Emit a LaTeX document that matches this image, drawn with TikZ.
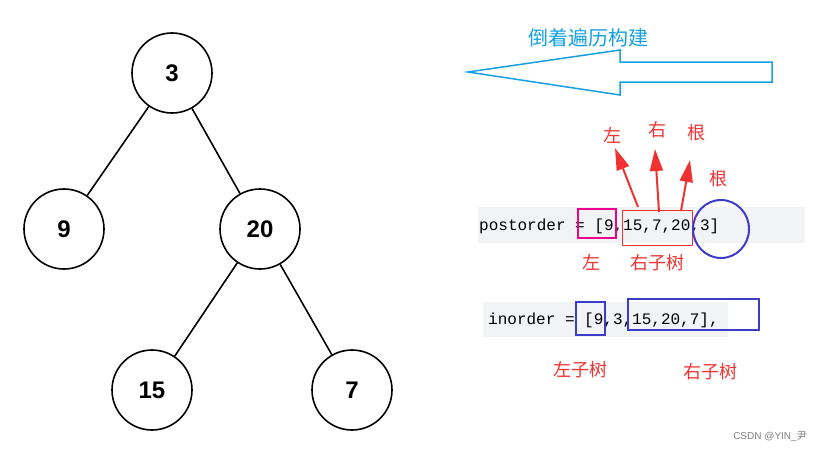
\documentclass[tikz,border=0pt]{standalone}
\usepackage{fontspec}
\setmainfont{Liberation Sans}
\newfontfamily\cjk{Noto Sans CJK SC}
\newfontfamily\mono{Liberation Mono}
\usetikzlibrary{arrows.meta}
\definecolor{cred}{RGB}{240,50,50}
\definecolor{cblue}{RGB}{60,60,200}
\definecolor{sky}{RGB}{20,160,225}
\definecolor{band}{RGB}{242,243,245}
\tikzset{
 tnode/.style={circle,draw,line width=1.6pt,minimum size=80pt,inner sep=0pt,font=\fontsize{24}{24}\selectfont\bfseries},
 edge/.style={line width=1.6pt},
 rlab/.style={text=cred,font=\cjk\fontsize{18}{18}\selectfont,inner sep=0pt},
 code/.style={font=\mono\fontsize{16}{16}\selectfont,anchor=west,inner sep=0pt},
 redarrow/.style={cred,line width=2pt,-{Triangle[length=22pt,width=13pt]}},
}
\begin{document}
\begin{tikzpicture}[x=1pt,y=-1pt]
\useasboundingbox (0,0) rectangle (829,452);
\node[tnode] (n3) at (172,73) {3};
\node[tnode] (n9) at (64,229) {9};
\node[tnode] (n20) at (260,229) {20};
\node[tnode] (n15) at (152,390) {15};
\node[tnode] (n7) at (352,390) {7};
\draw[edge] (n3) -- (n9);
\draw[edge] (n3) -- (n20);
\draw[edge] (n20) -- (n15);
\draw[edge] (n20) -- (n7);
% big arrow
\draw[sky,line width=1.5pt] (468,72) -- (620,50) -- (620,62) -- (772,62) -- (772,82) -- (620,82) -- (620,95) -- cycle;
\node[text=sky,font=\cjk\fontsize{20}{20}\selectfont] (title) at (588,38) {倒着遍历构建};
% postorder
\fill[band] (478,207) rectangle (805,243);
\node[code] (post) at (479,226) {postorder = [9,15,7,20,3]};
\draw[magenta,line width=2pt] (578,209) rectangle (616,238);
\draw[cred,line width=0.8pt] (622,210) rectangle (692,245);
\draw[cblue,line width=2pt] (721,229) ellipse (28 and 29);
\coordinate (a1) at (638,207); \coordinate (t1) at (615,148);
\coordinate (a2) at (659,212); \coordinate (t2) at (655,149);
\coordinate (a3) at (681,211); \coordinate (t3) at (690,160);
\draw[redarrow] (a1) -- (t1);
\draw[redarrow] (a2) -- (t2);
\draw[redarrow] (a3) -- (t3);
\node[rlab] (l1) at (612,135) {左};
\node[rlab] (l2) at (657,130) {右};
\node[rlab] (l3) at (696,133) {根};
\node[rlab] (l4) at (718,179) {根};
\node[rlab] (l5) at (591,262) {左};
\node[rlab] (l6) at (657,263) {右子树};
% inorder
\fill[band] (483,302) rectangle (728,337);
\node[code] (in) at (488,320) {inorder = [9,3,15,20,7],};
\draw[cblue,line width=2pt] (576,302) rectangle (605,335);
\draw[cblue,line width=2pt] (628,299) rectangle (759,330);
\node[rlab] (l7) at (580,370) {左子树};
\node[rlab] (l8) at (710,372) {右子树};
\node[text=gray,font=\fontsize{10}{10}\selectfont] (wm) at (770,437) {CSDN @YIN\_{\cjk 尹}};
\end{tikzpicture}
\end{document}
